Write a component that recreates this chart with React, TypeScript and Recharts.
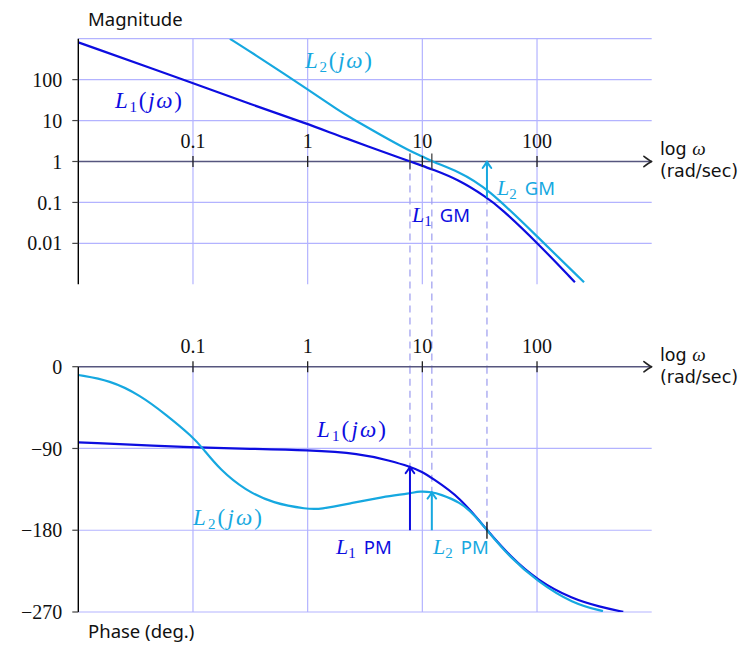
import React from 'react';
import { LineChart, Line, XAxis, YAxis, ReferenceLine, ReferenceDot } from 'recharts';

// ---------- data ----------
const omegaTicks = [0.1, 1, 10, 100];
const magTicks = [0.01, 0.1, 1, 10, 100];
const magGridValues = [0.01, 0.1, 10, 100, 1000];
const phaseTicks = [-270, -180, -90, 0];
const phaseGridValues = [-270, -180, -90];

const l1MagOmega = [0.01, 0.1, 0.314, 1, 1.91, 7.8, 10, 12.1, 20.3, 36.6, 47.5, 100, 214];
const l1MagValues = [813, 83, 25.3, 8.3, 4.14, 1.0, 0.79, 0.645, 0.37, 0.132, 0.0756, 0.0106, 0.00112];

const l2MagOmega = [0.21, 0.314, 1, 1.91, 2.34, 4.27, 7.8, 10, 12.1, 20.3, 36.6, 100, 257];
const l2MagValues = [1000, 490, 58.5, 16.8, 12.0, 4.55, 1.8, 1.34, 1.0, 0.58, 0.232, 0.0148, 0.00112];

const l1PhaseOmega = [0.01, 0.1, 0.314, 1, 2.86, 5.22, 7.8, 10, 12.1, 21.3, 36.6, 58, 100, 205, 353, 565];
const l1PhaseValues = [-83.3, -88.8, -90.4, -91.8, -95.5, -103.5, -110, -115.7, -122.6, -143.5, -180, -208.5, -235, -255.9, -264.2, -269.9];

const l2PhaseOmega = [0.01, 0.0189, 0.0345, 0.0582, 0.1, 0.122, 0.172, 0.284, 0.5, 1, 1.28, 2.34, 4.54, 7.8, 9.53, 12.1, 14.2, 21.3, 28.6, 36.6, 58, 100, 205, 376];
const l2PhaseValues = [-9.1, -15, -31.2, -52.7, -77.5, -90, -113.3, -135.8, -150.5, -156.8, -157, -150.5, -143.2, -139.5, -137, -138, -140.3, -149, -163.4, -180, -209.6, -236, -260.9, -269.1];

const wc1 = 7.8; // L1 gain crossover
const wc2 = 12.1; // L2 gain crossover
const w180 = 36.6; // phase crossover
const magAtW180 = 0.132;
const l1PhaseAtWc1 = -110;
const l2PhaseAtWc2 = -138;
const magBelowPanel = 0.00001; // carries the dashed guides down to the phase panel

const zip = (ws: number[], vs: number[]) => ws.map((w, i) => ({ w, v: vs[i] }));
const l1Mag = zip(l1MagOmega, l1MagValues);
const l2Mag = zip(l2MagOmega, l2MagValues);
const l1Phase = zip(l1PhaseOmega, l1PhaseValues);
const l2Phase = zip(l2PhaseOmega, l2PhaseValues);

// ---------- styles ----------
const BLUE = '#0d0de0';
const CYAN = '#16a8e0';
const GRID = '#b3b3ff';
const DASH = '#a3a3f0';
const AXIS = '#56567e';
const SERIF = '"Liberation Serif", serif';
const SANS = '"Noto Sans", "Open Sans", sans-serif';
const W = 745;
const H = 646;

function arrowHead(x: number, y: number, ang: number, color: string, size = 1, sw = 2) {
  const L = 6.5 * size;
  const Wd = 4.3 * size;
  return (
    <path
      d={`M ${-L} ${-Wd} Q ${-L * 0.3} ${-Wd * 0.2} 0 0 Q ${-L * 0.3} ${Wd * 0.2} ${-L} ${Wd}`}
      transform={`translate(${x},${y}) rotate(${ang})`}
      fill="none"
      stroke={color}
      strokeWidth={sw}
      strokeLinecap="round"
      strokeLinejoin="round"
    />
  );
}

const arrowShape = (color: string, sw: number, size: number, headColor?: string) => (p: any) => {
  const { x1, y1, x2, y2 } = p;
  const ang = (Math.atan2(y2 - y1, x2 - x1) * 180) / Math.PI;
  return (
    <g>
      <line x1={x1} y1={y1} x2={x2} y2={y2} stroke={color} strokeWidth={sw} />
      {arrowHead(x2, y2, ang, headColor || color, size, sw)}
    </g>
  );
};

const tickShape = (label: string, half: number, color: string) => (p: any) => (
  <g>
    <line x1={p.cx} x2={p.cx} y1={p.cy - half} y2={p.cy + half} stroke={color} strokeWidth={1.3} />
    {label ? (
      <text x={p.cx} y={p.cy - 13.8} textAnchor="middle" fontFamily={SERIF} fontSize={20} fill="#111">
        {label}
      </text>
    ) : null}
  </g>
);

const fmt = (v: number) => (v < 0 ? '\u2212' + Math.abs(v) : String(v));

const MathL = ({ x, y, sub, color, tl }: any) => (
  <text x={x} y={y} fill={color} fontFamily={SERIF} fontSize={23} textLength={tl} lengthAdjust="spacing">
    <tspan fontStyle="italic">L</tspan>
    <tspan fontSize={15} dy={4}>{sub}</tspan>
    <tspan dy={-4}>(</tspan>
    <tspan fontStyle="italic">jω</tspan>
    <tspan>)</tspan>
  </text>
);

const MarginLabel = ({ x, y, sub, word, color }: any) => (
  <text x={x} y={y} fill={color} fontFamily={SERIF} fontSize={22}>
    <tspan fontStyle="italic">L</tspan>
    <tspan fontSize={15} dy={4}>{sub}</tspan>
    <tspan dy={-4} dx={8} fontFamily={SANS} fontSize={18.5}>{word}</tspan>
  </text>
);

const AxisName = ({ x, y }: any) => (
  <text x={x} y={y} fontFamily='"DejaVu Sans", sans-serif' fontSize={17.5} fill="#111">
    <tspan x={x}>log </tspan>
    <tspan fontFamily={SERIF} fontStyle="italic" fontSize={19}>ω</tspan>
    <tspan x={x} dy={22}>(rad/sec)</tspan>
  </text>
);

const xAxisProps = {
  type: 'number' as const,
  dataKey: 'w',
  scale: 'log' as const,
  domain: [0.01, 1000],
  allowDataOverflow: true,
  hide: true,
};

const yAxisCommon = {
  type: 'number' as const,
  width: 60,
  tickSize: 6,
  tickMargin: 10,
  interval: 0 as const,
  allowDataOverflow: true,
  axisLine: { stroke: '#000', strokeWidth: 1.4 },
  tickLine: { stroke: '#444', strokeWidth: 1.2 },
  tick: { fill: '#111', fontSize: 20, fontFamily: SERIF },
  tickFormatter: fmt,
};

const curve = 'basis' as const;

export default function App() {
  return (
    <div style={{ position: 'absolute', left: 0, top: 0, width: W, height: H, background: '#fff' }}>
      {/* Magnitude panel */}
      <div style={{ position: 'absolute', left: 0, top: 0 }}>
        <LineChart width={W} height={H} margin={{ top: 38.7, right: 93.3, bottom: 361.7, left: 18.3 }}>
          <XAxis {...xAxisProps} />
          <YAxis {...yAxisCommon} scale="log" domain={[0.001, 1000]} ticks={magTicks} />
          {magGridValues.map((v) => (
            <ReferenceLine key={'mh' + v} y={v} stroke={GRID} strokeWidth={1.2} zIndex={-100} />
          ))}
          {omegaTicks.map((w) => (
            <ReferenceLine key={'mv' + w} x={w} stroke={GRID} strokeWidth={1.2} zIndex={-100} />
          ))}
          <ReferenceLine segment={[{ x: wc1, y: 1 }, { x: wc1, y: magBelowPanel }]} ifOverflow="visible" stroke={DASH} strokeWidth={1.3} strokeDasharray="7 5" />
          <ReferenceLine segment={[{ x: wc2, y: 1 }, { x: wc2, y: magBelowPanel }]} ifOverflow="visible" stroke={DASH} strokeWidth={1.3} strokeDasharray="7 5" />
          <ReferenceLine segment={[{ x: w180, y: magAtW180 }, { x: w180, y: magBelowPanel }]} ifOverflow="visible" stroke={DASH} strokeWidth={1.3} strokeDasharray="7 5" />
          <ReferenceLine y={1} shape={arrowShape(AXIS, 1.6, 1.2, '#222')} />
          {omegaTicks.map((w) => (
            <ReferenceDot key={'mt' + w} x={w} y={1} r={0} shape={tickShape(String(w), 5.5, '#222')} />
          ))}
          <ReferenceDot x={wc1} y={1} r={0} shape={tickShape('', 8, '#444')} />
          <ReferenceDot x={wc2} y={1} r={0} shape={tickShape('', 8, '#444')} />
          <Line data={l1Mag} dataKey="v" type={curve} stroke={BLUE} strokeWidth={2.2} dot={false} activeDot={false} isAnimationActive={false} />
          <Line data={l2Mag} dataKey="v" type={curve} stroke={CYAN} strokeWidth={2.2} dot={false} activeDot={false} isAnimationActive={false} />
          <ReferenceLine segment={[{ x: w180, y: magAtW180 }, { x: w180, y: 1 }]} shape={arrowShape(CYAN, 2, 1)} />
        </LineChart>
      </div>

      {/* Phase panel */}
      <div style={{ position: 'absolute', left: 0, top: 0 }}>
        <LineChart width={W} height={H} margin={{ top: 366.7, right: 93.3, bottom: 34, left: 18.3 }}>
          <XAxis {...xAxisProps} />
          <YAxis {...yAxisCommon} scale="linear" domain={[-270, 0]} ticks={phaseTicks} />
          {phaseGridValues.map((v) => (
            <ReferenceLine key={'ph' + v} y={v} stroke={GRID} strokeWidth={1.2} zIndex={-100} />
          ))}
          {omegaTicks.map((w) => (
            <ReferenceLine key={'pv' + w} x={w} stroke={GRID} strokeWidth={1.2} zIndex={-100} />
          ))}
          <ReferenceLine segment={[{ x: wc1, y: 0 }, { x: wc1, y: l1PhaseAtWc1 }]} stroke={DASH} strokeWidth={1.3} strokeDasharray="7 5" />
          <ReferenceLine segment={[{ x: wc2, y: 0 }, { x: wc2, y: l2PhaseAtWc2 }]} stroke={DASH} strokeWidth={1.3} strokeDasharray="7 5" />
          <ReferenceLine segment={[{ x: w180, y: 0 }, { x: w180, y: -180 }]} stroke={DASH} strokeWidth={1.3} strokeDasharray="7 5" />
          <ReferenceLine y={0} shape={arrowShape(AXIS, 1.6, 1.2, '#222')} />
          {omegaTicks.map((w) => (
            <ReferenceDot key={'pt' + w} x={w} y={0} r={0} shape={tickShape(String(w), 5.5, '#222')} />
          ))}
          <Line data={l1Phase} dataKey="v" type={curve} stroke={BLUE} strokeWidth={2.2} dot={false} activeDot={false} isAnimationActive={false} />
          <Line data={l2Phase} dataKey="v" type={curve} stroke={CYAN} strokeWidth={2.2} dot={false} activeDot={false} isAnimationActive={false} />
          <ReferenceLine segment={[{ x: wc1, y: -180 }, { x: wc1, y: l1PhaseAtWc1 }]} shape={arrowShape(BLUE, 2, 1)} />
          <ReferenceLine segment={[{ x: wc2, y: -180 }, { x: wc2, y: l2PhaseAtWc2 }]} shape={arrowShape(CYAN, 2, 1)} />
          <ReferenceDot x={w180} y={-180} r={0} shape={tickShape('', 8.5, '#111')} />
        </LineChart>
      </div>

      {/* annotations */}
      <svg width={W} height={H} style={{ position: 'absolute', left: 0, top: 0, pointerEvents: 'none' }}>
        <text x={88} y={26} fontFamily={SANS} fontSize={18.5} fill="#111">Magnitude</text>
        <text x={88} y={638} fontFamily={SANS} fontSize={18.5} fill="#111">Phase (deg.)</text>
        <AxisName x={660} y={155} />
        <AxisName x={660} y={361} />
        <MathL x={115} y={108} sub="1" color={BLUE} tl={67} />
        <MathL x={305} y={68} sub="2" color={CYAN} tl={67} />
        <MathL x={317} y={437} sub="1" color={BLUE} tl={69} />
        <MathL x={193} y={525} sub="2" color={CYAN} tl={69} />
        <MarginLabel x={412} y={222} sub="1" word="GM" color={BLUE} />
        <MarginLabel x={497} y={195} sub="2" word="GM" color={CYAN} />
        <MarginLabel x={336} y={554} sub="1" word="PM" color={BLUE} />
        <MarginLabel x={433} y={554} sub="2" word="PM" color={CYAN} />
      </svg>
    </div>
  );
}
